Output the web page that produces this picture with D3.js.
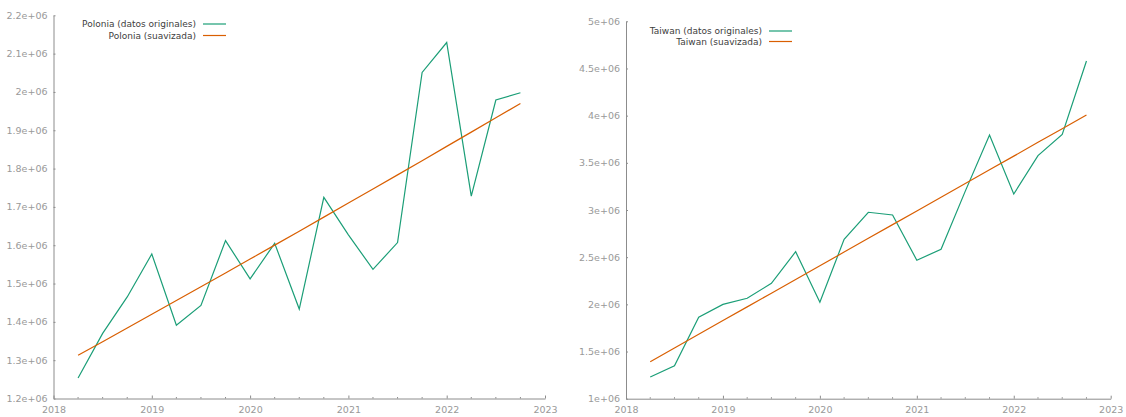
<!DOCTYPE html>
<html>
<head>
<meta charset="utf-8">
<script src="https://cdn.jsdelivr.net/npm/d3@7"></script>
<style>
  html, body { margin: 0; padding: 0; background: #fff; }
  svg { display: block; }
  text { font-family: "DejaVu Sans", Verdana, sans-serif; }
</style>
</head>
<body>
<svg id="chart" width="1126" height="417"></svg>
<script>
// Quarterly observations (decimal year)
const quarters = [2018.25, 2018.5, 2018.75, 2019.0, 2019.25, 2019.5, 2019.75, 2020.0,
  2020.25, 2020.5, 2020.75, 2021.0, 2021.25, 2021.5, 2021.75, 2022.0, 2022.25, 2022.5, 2022.75];

const polandRaw = [1253500, 1370000, 1465000, 1577000, 1391000, 1443000, 1612000, 1512000,
  1605000, 1433500, 1725000, 1627000, 1537000, 1607000, 2051000, 2129000, 1728000, 1979000, 1998000];
const polandSmooth = [1312700, 1348200, 1383900, 1419600, 1455500, 1491600, 1527700, 1563900,
  1600200, 1636700, 1673300, 1710000, 1746700, 1783600, 1820700, 1857900, 1895100, 1932500, 1970100];

const taiwanRaw = [1230000, 1350000, 1863000, 2000000, 2064000, 2223000, 2558000, 2022000,
  2689000, 2976000, 2947000, 2468000, 2583000, 3200000, 3795000, 3170000, 3576000, 3802000, 4579000];
const taiwanSmooth = [1392000, 1537000, 1683000, 1828000, 1973000, 2118000, 2264000, 2409000,
  2554000, 2700000, 2845000, 2990000, 3135000, 3281000, 3426000, 3571000, 3717000, 3862000, 4007000];

const yearTicks = [2018, 2019, 2020, 2021, 2022, 2023];
const polandYTicks = [1200000, 1300000, 1400000, 1500000, 1600000, 1700000, 1800000, 1900000, 2000000, 2100000, 2200000];
const polandYLabels = ["1.2e+06", "1.3e+06", "1.4e+06", "1.5e+06", "1.6e+06", "1.7e+06", "1.8e+06", "1.9e+06", "2e+06", "2.1e+06", "2.2e+06"];
const taiwanYTicks = [1000000, 1500000, 2000000, 2500000, 3000000, 3500000, 4000000, 4500000, 5000000];
const taiwanYLabels = ["1e+06", "1.5e+06", "2e+06", "2.5e+06", "3e+06", "3.5e+06", "4e+06", "4.5e+06", "5e+06"];

const rawLabelPL = "Polonia (datos originales)";
const smoothLabelPL = "Polonia (suavizada)";
const rawLabelTW = "Taiwan (datos originales)";
const smoothLabelTW = "Taiwan (suavizada)";

const GREEN = "#1b9e77";
const ORANGE = "#d95f02";
const AXIS = "#8c8c8c";
const TICKTEXT = "#999999";

const svg = d3.select("#chart");

function panel(cfg) {
  const g = svg.append("g");
  const x = d3.scaleLinear().domain([2018, 2023]).range([cfg.left, cfg.right]);
  const y = d3.scaleLinear().domain(cfg.yDomain).range([cfg.bottom, cfg.top]);

  // quarter minor ticks on the x axis
  const minor = [];
  for (let yr = 2018; yr < 2023; yr++) [0.25, 0.5, 0.75].forEach(q => minor.push(yr + q));

  const xAxis = d3.axisBottom(x).tickValues(yearTicks).tickFormat(d3.format("d"))
    .tickSizeInner(-3).tickSizeOuter(0).tickPadding(7);
  const gx = g.append("g").attr("transform", `translate(0,${cfg.bottom})`).call(xAxis);
  gx.select(".domain").attr("stroke", AXIS);
  gx.selectAll(".tick line").attr("stroke", AXIS);
  gx.selectAll(".tick text").attr("fill", TICKTEXT).attr("font-size", 9.5)
    .attr("font-family", "DejaVu Sans").attr("dy", "0.75em");
  gx.selectAll(".minor").data(minor).enter().append("line")
    .attr("x1", d => x(d)).attr("x2", d => x(d))
    .attr("y1", 0).attr("y2", -1.5).attr("stroke", AXIS);

  const yAxis = d3.axisLeft(y).tickValues(cfg.yTicks)
    .tickFormat((d, i) => cfg.yLabels[i]).tickSizeInner(-2).tickSizeOuter(0).tickPadding(6);
  const gy = g.append("g").attr("transform", `translate(${cfg.left},0)`).call(yAxis);
  gy.select(".domain").attr("stroke", AXIS);
  gy.selectAll(".tick line").attr("stroke", AXIS);
  gy.selectAll(".tick text").attr("fill", TICKTEXT).attr("font-size", 9.5)
    .attr("font-family", "DejaVu Sans");

  const line = d3.line().x((d, i) => x(quarters[i])).y(d => y(d));
  g.append("path").datum(cfg.raw).attr("d", line)
    .attr("fill", "none").attr("stroke", GREEN).attr("stroke-width", 1.2);
  g.append("path").datum(cfg.smooth).attr("d", line)
    .attr("fill", "none").attr("stroke", ORANGE).attr("stroke-width", 1.2);

  // legend
  const items = [[cfg.rawLabel, GREEN], [cfg.smoothLabel, ORANGE]];
  items.forEach(([label, col], i) => {
    const cy = cfg.legY + i * cfg.legGap;
    g.append("text").attr("x", cfg.legX).attr("y", cy).attr("dy", "0.35em")
      .attr("text-anchor", "end").attr("font-size", 9).attr("fill", "#404040").text(label);
    g.append("line").attr("x1", cfg.legX + 7).attr("x2", cfg.legX + 30)
      .attr("y1", cy).attr("y2", cy).attr("stroke", col).attr("stroke-width", 1.2);
  });
}

panel({
  left: 53.5, right: 545, top: 15.3, bottom: 398.5,
  yDomain: [1200000, 2200000], yTicks: polandYTicks, yLabels: polandYLabels,
  raw: polandRaw, smooth: polandSmooth,
  rawLabel: rawLabelPL, smoothLabel: smoothLabelPL,
  legX: 196, legY: 24, legGap: 11.5
});

panel({
  left: 626, right: 1110.7, top: 21.3, bottom: 398.7,
  yDomain: [1000000, 5000000], yTicks: taiwanYTicks, yLabels: taiwanYLabels,
  raw: taiwanRaw, smooth: taiwanSmooth,
  rawLabel: rawLabelTW, smoothLabel: smoothLabelTW,
  legX: 762, legY: 31, legGap: 10.5
});
</script>
</body>
</html>
